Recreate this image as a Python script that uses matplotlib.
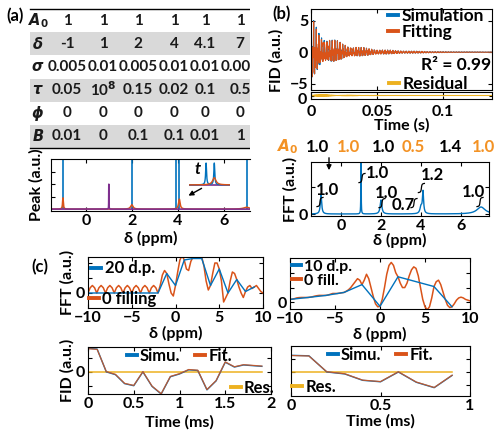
import numpy as np
import matplotlib
matplotlib.use("Agg")
import matplotlib.pyplot as plt
from matplotlib.lines import Line2D
from matplotlib.patches import Rectangle

plt.rcParams['font.family'] = ['Lato', 'DejaVu Sans']
plt.rcParams['font.weight'] = 'bold'
plt.rcParams['axes.labelweight'] = 'bold'
plt.rcParams['font.size'] = 10
plt.rcParams['mathtext.fontset'] = 'custom'
plt.rcParams['mathtext.it'] = 'DejaVu Sans:italic:bold'
plt.rcParams['mathtext.rm'] = 'DejaVu Sans:bold'
plt.rcParams['mathtext.bf'] = 'DejaVu Sans:bold'
plt.rcParams['xtick.direction'] = 'in'
plt.rcParams['ytick.direction'] = 'in'
plt.rcParams['xtick.top'] = True
plt.rcParams['ytick.right'] = True
plt.rcParams['xtick.major.size'] = 3
plt.rcParams['ytick.major.size'] = 3
plt.rcParams['xtick.major.pad'] = 2
plt.rcParams['ytick.major.pad'] = 2
plt.rcParams['axes.linewidth'] = 0.8

BLUE = '#0072BD'
ORANGE = '#D95319'
YELLOW = '#EDB120'
PURPLE = '#7E2F8E'
LIGHT_OR = '#F39224'
TICK_FS = 11.5
LABEL_FS = 11.5

# ---------- data ----------
# (a) parameter table
ROW_NAMES = [r'$A_0$', r'$\delta$', r'$\sigma$', r'$\tau$', r'$\phi$', r'$B$']
A0 = [1, 1, 1, 1, 1, 1]
DELTA = [-1, 1, 2, 4, 4.1, 7]
SIGMA = [0.005, 0.01, 0.005, 0.01, 0.01, 0.005]
TAU = [0.05, 1e8, 0.15, 0.02, 0.1, 0.5]
PHI = [0, 0, 0, 0, 0, 0]
BROAD = [0.01, 0, 0.1, 0.1, 0.01, 1]

# (a) peak plot
STICK_POS = [-1, 2, 3.94, 4.07, 7]
ORANGE_POS = [-1, 2, 4.07, 7]
ORANGE_H = [0.9, 0.35, 0.8, 0.15]
ORANGE_W = [0.02, 0.06, 0.04, 0.15]
PURPLE_POS = 1
PURPLE_H = 2.0

# (b) simulated FID envelope decay per line (s), fit results
FID_DECAY = [0.012, 0.035, 0.015, 0.02, 0.022, 0.006]
A0_FIT = [1.0, 1.0, 1.0, 0.5, 1.4, 1.0]
R2 = 0.99
SPEC_H = [0.7, 2.6, 0.52, 0.26, 0.81, 0.26]
SPEC_W = [0.04, 0.008, 0.05, 0.06, 0.035, 0.25]
INT_VALUES = [1.0, 1.0, 1.0, 0.7, 1.2, 1.0]
INT_X = [-1.05, 1.05, 2.05, 3.65, 4.02, 6.95]
INT_Y0 = [0.26, 1.15, 0.22, 0.22, 0.78, 0.26]
INT_LABEL_X = [-0.7, 1.8, 2.25, 3.1, 4.55, 6.6]
INT_LABEL_Y = [0.89, 1.52, 0.78, 0.33, 1.44, 0.81]

# (c) FID points (0.1 ms dwell)
FID_T = [0.0, 0.1, 0.2, 0.3, 0.4, 0.5, 0.6, 0.7, 0.8, 0.9,
         1.0, 1.1, 1.2, 1.3, 1.4, 1.5, 1.6, 1.7, 1.8, 1.9]
FID_SIM = [1.7, 1.65, 0.0, -0.2, -0.85, -1.0, 0.0, -1.05, -1.6, -0.35,
           -0.15, 0.15, 0.1, -1.3, -0.65, 0.7, 0.35, 0.5, 0.45, 0.4]
FID_FIT = [1.68, 1.63, 0.02, -0.18, -0.83, -0.98, 0.02, -1.03, -1.58, -0.33,
           -0.13, 0.17, 0.12, -1.28, -0.63, 0.72, 0.37, 0.52, 0.47, 0.42]
FID_RES = [0.0] * 20

# (c) spectra
PPM20 = [-10, -9, -8, -7, -6, -5, -4, -3, -2, -1, 0, 1, 2, 3, 4, 5, 6, 7, 8, 9]
SPEC20 = [0, 0, 0, 0, 0, 0, 0, 0, 0, 1.3, 0.5, 2.2, 2.3, 2.3, 0.5, 1.6, 0.0, 0.9, 0.1, 0.4]
PPM_FILL = list(np.arange(-10, 10.01, 0.25))
SPEC20_FILL = [0, .35, .5, .35, 0, .35, .5, .35, 0, .35, .5, .35, 0, .35, .5, .35,
               0, .35, .5, .35, 0, .35, .5, .35, 0, .35, .5, .35, 0, .35, .5, .35,
               0, 0.5, 1.2, 1.5, 1.3, 0.6, 0.0, -0.2, 0.5, 1.4, 2.2, 2.5, 2.2, 1.6,
               1.5, 2.1, 2.4, 2.5, 2.6, 2.5, 2.4, 1.8, 0.8, 0.2, 0.5, 1.3, 2.0, 2.0,
               1.6, 0.8, -0.6, -0.3, 0.0, 0.8, 1.4, 1.3, 0.9, 0.4, 0.0, -0.3, 0.1,
               0.4, 0.5, 0.3, 0.4, 0.5, 0.3, 0.1, 0.0]
PPM10 = [-10, -8, -6, -4, -2, 0, 2, 4, 6, 8]
SPEC10 = [0.2, 0.33, 0.47, 0.67, 1.2, -0.27, 1.73, 1.4, 1.07, -0.3]
SPEC10_FILL = [0.2, .22, .25, .3, .32, .33, .33, .33, .33, .35, .38, .42, .45, .47,
               .47, .47, .47, .5, .55, .6, .6, .6, .62, .65, .67, .75, .85, 1.0,
               1.2, 1.4, 1.6, 1.5, 1.2, 1.5, 1.9, 1.6, 1.0, 0.4, -0.1, -0.3, -0.27,
               0.2, 1.0, 1.9, 2.5, 2.7, 2.5, 2.0, 1.73, 1.3, 1.0, 1.0, 1.3, 1.8,
               2.2, 2.4, 2.3, 1.8, 1.0, 0.2, -0.3, -0.5, -0.3, 0.3, 1.07, 1.4, 1.5,
               1.2, 0.7, 0.2, -0.2, -0.35, -0.3, -0.1, 0.15, 0.3, 0.35, 0.3, 0.2,
               0.15, 0.1]


def px(x0, y0, x1, y1):
    W, H = 500, 436
    return [x0 / W, 1 - y1 / H, (x1 - x0) / W, (y1 - y0) / H]


def lorentz(x, c, h, w):
    return h * w**2 / ((x - c)**2 + w**2)


def handle(color):
    return Line2D([], [], color=color, lw=2.8)


fig = plt.figure(figsize=(5, 4.36), dpi=100)

# ---------- (a) table ----------
ax_t = fig.add_axes(px(0, 0, 250, 150))
ax_t.set_xlim(0, 250)
ax_t.set_ylim(150, 0)
ax_t.axis('off')
row_y = [21, 44, 67, 90, 113, 136]
col_x = [67, 103, 138, 174, 205, 240]
for y in (row_y[1], row_y[3], row_y[5]):
    ax_t.add_patch(Rectangle((30, y - 11.5), 220, 23, color='#d9d9d9', lw=0))
ax_t.plot([30, 250], [9, 9], color='k', lw=1.0)
ax_t.plot([30, 250], [147.5, 147.5], color='k', lw=1.0)


def fmt(v):
    if v >= 1e6:
        return r'10$^{8}$'
    return f'{v:g}'


rows = [A0, DELTA, SIGMA, TAU, PHI, BROAD]
for y, name, vals in zip(row_y, ROW_NAMES, rows):
    ax_t.text(38, y, name, ha='center', va='center', fontsize=10.5, color='#1a1a1a')
    for x, v in zip(col_x, vals):
        ax_t.text(x, y, fmt(v), ha='center', va='center', fontsize=11,
                  color='#1a1a1a', clip_on=True)
fig.text(15 / 500, 1 - 16 / 436, '(a)', ha='center', va='center', fontsize=12)

# ---------- (a) peak plot ----------
ax_a = fig.add_axes(px(51, 159, 250, 211))
xs = np.linspace(-1.6, 7.6, 4000)
ax_a.vlines(STICK_POS, 0, 10, color=BLUE, lw=1.2)
orange_curve = sum(lorentz(xs, c, h, w) for c, h, w in zip(ORANGE_POS, ORANGE_H, ORANGE_W))
ax_a.plot(xs, orange_curve, color=ORANGE, lw=1.1)
ax_a.plot(xs, lorentz(xs, PURPLE_POS, PURPLE_H, 0.004), color=PURPLE, lw=1.2)
ax_a.set_xlim(-1.52, 7.15)
ax_a.set_ylim(-0.15, 4)
ax_a.set_xticks([0, 2, 4, 6])
ax_a.set_yticks([1, 2, 3])
ax_a.set_yticklabels([])
ax_a.tick_params(labelsize=TICK_FS)
ax_a.spines['right'].set_visible(False)
ax_a.tick_params(right=False)
ax_a.set_xlabel('δ (ppm)', fontsize=LABEL_FS, labelpad=2)
ax_a.set_ylabel('Peak (a.u.)', fontsize=LABEL_FS, labelpad=3)

# inset zoom of the 4 / 4.1 ppm pair
ax_in = fig.add_axes(px(189, 162, 230, 186))
xi = np.linspace(3.75, 4.35, 600)
ax_in.plot(xi, np.zeros_like(xi), color=PURPLE, lw=1.2)
ax_in.plot(xi, lorentz(xi, 4.0, 1.0, 0.008) + lorentz(xi, 4.12, 1.0, 0.008), color=BLUE, lw=1.0)
ax_in.plot(xi, lorentz(xi, 4.12, 0.33, 0.03), color=ORANGE, lw=1.0)
ax_in.set_xlim(3.75, 4.35)
ax_in.set_ylim(-0.05, 1.05)
ax_in.axis('off')
fig.text(198 / 500, 1 - 169 / 436, 't', style='italic', fontsize=12, ha='center', va='center')
ax_a.annotate('', xy=(186 / 500, 1 - 197 / 436), xytext=(204 / 500, 1 - 187 / 436),
              xycoords='figure fraction', textcoords='figure fraction',
              arrowprops=dict(arrowstyle='-|>', color='k', lw=1.0, mutation_scale=7))

# ---------- (b) FID ----------
t = np.arange(0, 0.14, 1e-4)


def fid(amps):
    out = np.zeros_like(t)
    for a, d, T, p in zip(amps, DELTA, FID_DECAY, PHI):
        out += a * np.exp(-t / T) * np.cos(2 * np.pi * d * 500 * t + p)
    return out


sim = fid(A0)
fit = fid(A0_FIT)
ax_b = fig.add_axes(px(311, 9, 492, 90))
ax_b.plot(t, sim, color=BLUE, lw=0.8)
ax_b.plot(t, fit, color=ORANGE, lw=0.8)
ax_b.set_xlim(0, 0.137)
ax_b.set_ylim(-6.0, 6.85)
ax_b.set_yticks([-5, 0, 5])
ax_b.set_xticks([0, 0.05, 0.1])
ax_b.set_xticklabels([])
ax_b.tick_params(labelsize=TICK_FS)
ax_b.set_ylabel('FID (a.u.)', fontsize=LABEL_FS)
ax_b.yaxis.set_label_coords(-0.15, 0.36)
leg = ax_b.legend([handle(BLUE), handle(ORANGE)], ['Simulation', 'Fitting'],
                  loc='upper right', frameon=False, fontsize=12.5,
                  handlelength=0.6, handletextpad=0.2, labelspacing=0.0,
                  borderaxespad=0.0, borderpad=0.05, bbox_to_anchor=(0.96, 1.02))
ax_b.add_artist(leg)
ax_b.legend([handle(YELLOW)], ['Residual'], loc='lower right',
            frameon=False, fontsize=12.5, handlelength=0.6, handletextpad=0.2,
            borderaxespad=0.0, borderpad=0.0, bbox_to_anchor=(0.87, -0.03))
ax_b.text(0.995, 0.31, f'R² = {R2:.2f}', transform=ax_b.transAxes, ha='right',
          va='center', fontsize=12.5)
fig.text(282 / 500, 1 - 14 / 436, '(b)', ha='center', va='center', fontsize=12)

ax_r = fig.add_axes(px(311, 92, 492, 99))
ax_r.plot(t, sim - fit, color=YELLOW, lw=0.8)
ax_r.set_xlim(0, 0.137)
ax_r.set_ylim(-2.5, 2.5)
ax_r.set_yticks([0])
ax_r.set_yticklabels([])
ax_r.set_xticks([0, 0.05, 0.1])
ax_r.set_xticklabels(['0', '0.05', '0.1'])
ax_r.tick_params(labelsize=TICK_FS, length=2)
ax_r.tick_params(axis='x', pad=4)
ax_r.set_xlabel('Time (s)', fontsize=LABEL_FS, labelpad=0)
fig.text(307 / 500, 1 - 100 / 436, '0', ha='right', va='center', fontsize=TICK_FS)

# ---------- (b) spectrum ----------
ax_s = fig.add_axes(px(311, 162, 489, 216))
spec = sum(lorentz(xs, c, h, w) for c, h, w in zip(DELTA, SPEC_H, SPEC_W))
ax_s.plot(xs, spec, color=BLUE, lw=1.0)
for c, y0, val, lx, ly in zip(INT_X, INT_Y0, INT_VALUES, INT_LABEL_X, INT_LABEL_Y):
    xi = np.linspace(c - 0.15, c + 0.15, 60)
    ax_s.plot(xi, y0 + 0.37 * (0.5 + np.arctan((xi - c) / 0.02) / np.pi), color='k', lw=0.9)
    ax_s.text(lx, ly, f'{val:.1f}', ha='center', va='center', fontsize=12)
ax_s.set_xlim(-1.5, 7.4)
ax_s.set_ylim(-0.074, 1.93)
ax_s.set_xticks([0, 2, 4, 6])
ax_s.set_yticks([0, 1])
ax_s.set_yticklabels(['0', ''])
ax_s.tick_params(labelsize=TICK_FS)
ax_s.set_xlabel('δ (ppm)', fontsize=LABEL_FS, labelpad=0)
ax_s.set_ylabel('FFT (a.u.)', fontsize=LABEL_FS, labelpad=1)

# fitted A0 row above the spectrum
fig.text(288 / 500, 1 - 147 / 436, r'$A_0$', color=LIGHT_OR, ha='center', va='center', fontsize=11)
a0_x = [317, 348, 383, 413, 450, 483]
for i, (x, v) in enumerate(zip(a0_x, A0_FIT)):
    fig.text(x / 500, 1 - 147 / 436, f'{v:.1f}', color='k' if i % 2 == 0 else LIGHT_OR,
             ha='center', va='center', fontsize=12)
ax_s.annotate('', xy=(329 / 500, 1 - 173 / 436), xytext=(329 / 500, 1 - 155 / 436),
              xycoords='figure fraction', textcoords='figure fraction',
              arrowprops=dict(arrowstyle='-|>', color='k', lw=1.0, mutation_scale=7))

# ---------- (c) spectra ----------
fig.text(40 / 500, 1 - 267 / 436, '(c)', ha='center', va='center', fontsize=12)

ax_c1 = fig.add_axes(px(88, 257, 263, 308))
ax_c1.plot(PPM_FILL, SPEC20_FILL, color=ORANGE, lw=1.1)
ax_c1.plot(PPM20, SPEC20, color=BLUE, lw=1.0)
ax_c1.set_xlim(-10, 10)
ax_c1.set_ylim(-1.0, 2.4)
ax_c1.set_yticks([0, 1, 2])
ax_c1.set_yticklabels(['0', '', ''])
ax_c1.set_xticks([-10, -5, 0, 5, 10])
ax_c1.tick_params(labelsize=TICK_FS)
ax_c1.set_xlabel('δ (ppm)', fontsize=LABEL_FS, labelpad=1)
ax_c1.set_ylabel('FFT (a.u.)', fontsize=LABEL_FS, labelpad=1)
l1 = ax_c1.legend([handle(BLUE)], ['20 d.p.'], loc='upper left',
                  frameon=False, fontsize=12, handlelength=0.6, handletextpad=0.2,
                  borderaxespad=0.1, borderpad=0.1)
ax_c1.add_artist(l1)
ax_c1.legend([handle(ORANGE)], ['0 filling'], loc='lower left',
             frameon=False, fontsize=12, handlelength=0.6, handletextpad=0.2,
             borderaxespad=0.0, borderpad=0.05)

ax_c2 = fig.add_axes(px(290, 258, 470, 309))
ax_c2.plot(PPM_FILL, SPEC10_FILL, color=ORANGE, lw=1.1)
ax_c2.plot(PPM10, SPEC10, color=BLUE, lw=1.0)
ax_c2.set_xlim(-10, 10)
ax_c2.set_ylim(-0.45, 3.0)
ax_c2.set_yticks([0, 1, 2])
ax_c2.set_yticklabels(['0', '', ''])
ax_c2.set_xticks([-10, -5, 0, 5, 10])
ax_c2.tick_params(labelsize=TICK_FS)
ax_c2.set_xlabel('δ (ppm)', fontsize=LABEL_FS, labelpad=1)
ax_c2.legend([handle(BLUE), handle(ORANGE)], ['10 d.p.', '0 fill.'], loc='upper left',
             frameon=False, fontsize=11.5, handlelength=0.6, handletextpad=0.2,
             labelspacing=0.0, borderaxespad=0.05, borderpad=0.05)

# ---------- (c) FIDs ----------
ax_c3 = fig.add_axes(px(88, 347, 271, 394))
ax_c3.plot(FID_T, FID_RES, color=YELLOW, lw=1.1)
ax_c3.plot(FID_T, FID_SIM, color=BLUE, lw=1.0)
ax_c3.plot(FID_T, FID_FIT, color=ORANGE, lw=0.9, alpha=0.85)
ax_c3.set_xlim(0, 2)
ax_c3.set_ylim(-1.6, 1.8)
ax_c3.set_yticks([-1, 0, 1])
ax_c3.set_yticklabels(['', '0', ''])
ax_c3.set_xticks([0, 0.5, 1, 1.5, 2])
ax_c3.set_xticklabels(['0', '0.5', '1', '1.5', '2'])
ax_c3.tick_params(labelsize=TICK_FS)
ax_c3.set_xlabel('Time (ms)', fontsize=LABEL_FS, labelpad=3)
ax_c3.set_ylabel('FID (a.u.)', fontsize=LABEL_FS, labelpad=1)
l3 = ax_c3.legend([handle(BLUE), handle(ORANGE)], ['Simu.', 'Fit.'], loc='upper center',
                  ncol=2, frameon=False, fontsize=12, handlelength=0.6, handletextpad=0.2,
                  columnspacing=0.9, borderaxespad=0.0, borderpad=0.05)
ax_c3.add_artist(l3)
ax_c3.legend([handle(YELLOW)], ['Res.'], loc='lower right',
             frameon=False, fontsize=12, handlelength=0.6, handletextpad=0.2,
             borderaxespad=0.0, borderpad=0.0, bbox_to_anchor=(1.02, -0.04))

ax_c4 = fig.add_axes(px(291, 346, 470, 396))
ax_c4.plot(FID_T[:10], FID_RES[:10], color=YELLOW, lw=1.1)
ax_c4.plot(FID_T[:10], FID_SIM[:10], color=BLUE, lw=1.0)
ax_c4.plot(FID_T[:10], FID_FIT[:10], color=ORANGE, lw=0.9, alpha=0.85)
ax_c4.set_xlim(0, 1)
ax_c4.set_ylim(-2.45, 2.65)
ax_c4.set_yticks([-1.35, 0, 1.35])
ax_c4.set_yticklabels([])
ax_c4.set_xticks([0, 0.5, 1])
ax_c4.set_xticklabels(['0', '0.5', '1'])
ax_c4.tick_params(labelsize=TICK_FS)
ax_c4.set_xlabel('Time (ms)', fontsize=LABEL_FS, labelpad=1)
l4 = ax_c4.legend([handle(BLUE), handle(ORANGE)], ['Simu.', 'Fit.'], loc='upper center',
                  ncol=2, frameon=False, fontsize=12, handlelength=0.6, handletextpad=0.2,
                  columnspacing=0.9, borderaxespad=0.0, borderpad=0.05)
ax_c4.add_artist(l4)
ax_c4.legend([handle(YELLOW)], ['Res.'], loc='lower left',
             frameon=False, fontsize=12, handlelength=0.6, handletextpad=0.2,
             borderaxespad=0.0, borderpad=0.05)

fig.savefig('out.png', dpi=100)
